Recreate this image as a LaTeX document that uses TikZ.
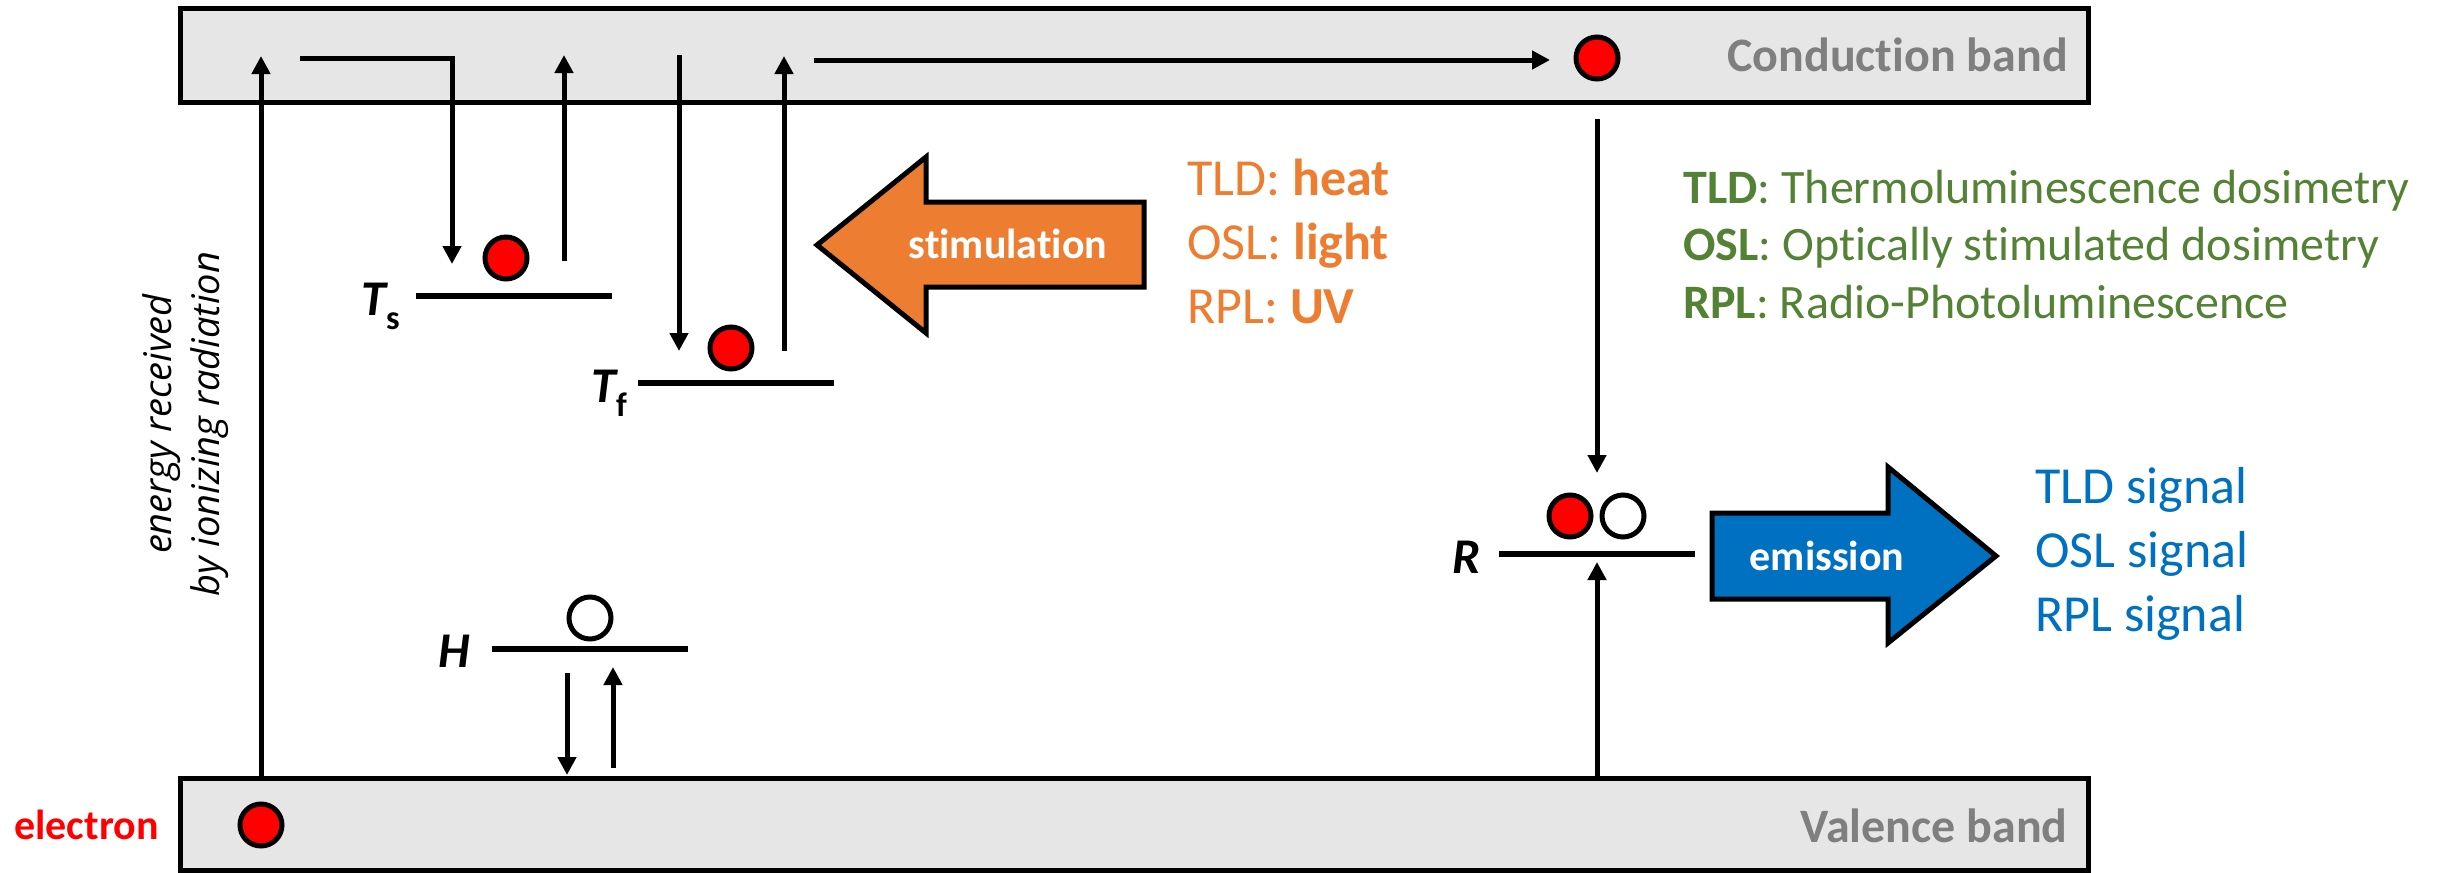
\documentclass[tikz,border=0pt]{standalone}
\usepackage{fontspec}
\setmainfont{Carlito}[Ligatures=NoCommon]
\newfontfamily\osans{Open Sans}
\usetikzlibrary{arrows.meta}
\definecolor{bandgray}{RGB}{230,230,230}
\definecolor{labgray}{RGB}{127,127,127}
\definecolor{orng}{RGB}{237,125,49}
\definecolor{grn}{RGB}{84,130,53}
\definecolor{blu}{RGB}{0,112,192}
\definecolor{redel}{RGB}{255,0,0}
\begin{document}
\begin{tikzpicture}[x=0.5pt,y=-0.5pt,
  band/.style={draw=black, fill=bandgray, line width=2.5pt, minimum width=954pt, inner sep=0pt},
  bandlabel/.style={text=labgray, font=\bfseries\fontsize{24}{28}\selectfont, inner sep=0pt, anchor=base east},
  elec/.style={circle, draw=black, line width=2.5pt, fill=redel, minimum size=21pt, inner sep=0pt},
  hole/.style={elec, fill=white},
  level/.style={line width=3pt},
  arr/.style={line width=2.5pt, -{Triangle[width=9pt,length=9pt]}},
  lvllabel/.style={font=\bfseries\itshape\fontsize{25}{30}\selectfont, inner sep=0pt, anchor=base west},
  bigarrow/.style={draw=black, line width=2.5pt, line join=miter},
  arrowtext/.style={text=white, font=\bfseries\fontsize{21}{25}\selectfont, inner sep=0pt, anchor=base},
  orangetext/.style={text=orng, font=\fontsize{26}{31}\selectfont, inner sep=0pt, anchor=base west},
  greentext/.style={text=grn, font=\fontsize{24}{29}\selectfont, inner sep=0pt, anchor=base west},
  bluetext/.style={text=blu, font=\fontsize{26}{31}\selectfont, inner sep=0pt, anchor=base west}
]
\useasboundingbox (0,0) rectangle (2438,873);

% bands
\node[band, minimum height=47pt] (cb) at (1134,55) {};
\node[band, minimum height=46pt] (vb) at (1134,824) {};
\node[bandlabel] (cblab) at (2068,71) {Conduction band};
\node[bandlabel] (vblab) at (2068,842) {Valence band};

% levels
\coordinate (ts1) at (416,296); \coordinate (ts2) at (612,296);
\coordinate (tf1) at (638,383); \coordinate (tf2) at (834,383);
\coordinate (h1) at (492,649);  \coordinate (h2) at (688,649);
\coordinate (r1) at (1499,554); \coordinate (r2) at (1695,554);
\draw[level] (ts1) -- (ts2);
\draw[level] (tf1) -- (tf2);
\draw[level] (h1) -- (h2);
\draw[level] (r1) -- (r2);

% level labels
\node[lvllabel] (tslab) at (361,315) {T\raisebox{-7pt}{\upshape\fontsize{17}{17}\selectfont s}};
\node[lvllabel] (tflab) at (591,402) {T\raisebox{-7pt}{\upshape\fontsize{17}{17}\selectfont f}};
\node[lvllabel] (hlab) at (438,667) {H};
\node[lvllabel] (rlab) at (1452,573) {R};

% electrons and holes
\node[elec] (ecb) at (1597,58) {};
\node[elec] (ets) at (506,258) {};
\node[elec] (etf) at (731,348) {};
\node[elec] (er) at (1570,516) {};
\node[hole] (hr) at (1623,516) {};
\node[hole] (hh) at (590,618) {};
\node[elec] (evb) at (261,825) {};

% arrow end points
\coordinate (e0) at (261,778);  \coordinate (e1) at (261,56);
\coordinate (c0) at (300,58);   \coordinate (c1) at (452,58);  \coordinate (c2) at (452,264);
\coordinate (s0) at (564,261);  \coordinate (s1) at (564,55);
\coordinate (f0) at (679,55);   \coordinate (f1) at (679,351);
\coordinate (g0) at (784,351);  \coordinate (g1) at (784,56);
\coordinate (t0) at (814,60);   \coordinate (t1) at (1550,60);
\coordinate (d0) at (1597,119); \coordinate (d1) at (1597,473);
\coordinate (u0) at (1597,778); \coordinate (u1) at (1597,562);
\coordinate (hd0) at (567,673); \coordinate (hd1) at (567,775);
\coordinate (hu0) at (613,768); \coordinate (hu1) at (613,667);

\draw[arr] (e0) -- (e1);
\draw[arr, line join=miter] (c0) -- (c1) -- (c2);
\draw[arr] (s0) -- (s1);
\draw[arr] (f0) -- (f1);
\draw[arr] (g0) -- (g1);
\draw[arr] (t0) -- (t1);
\draw[arr] (d0) -- (d1);
\draw[arr] (u0) -- (u1);
\draw[arr] (hd0) -- (hd1);
\draw[arr] (hu0) -- (hu1);

% energy text
\node[rotate=90, align=center, inner sep=0pt, font=\osans\itshape\fontsize{19}{24}\selectfont] (energy) at (186,424) {energy received\\by ionizing radiation};

% electron label
\node[text=redel, font=\bfseries\fontsize{21}{25}\selectfont, inner sep=0pt, anchor=base west] (elab) at (14,839) {electron};

% stimulation arrow
\draw[bigarrow, fill=orng] (1144,202) -- (926,202) -- (926,157) -- (817,245) -- (926,333) -- (926,287) -- (1144,287) -- cycle;
\node[arrowtext] (stim) at (1008,258) {stimulation};

% emission arrow
\draw[bigarrow, fill=blu] (1712,513) -- (1888,513) -- (1888,467) -- (1996,556) -- (1888,643) -- (1888,599) -- (1712,599) -- cycle;
\node[arrowtext] (emis) at (1827,570) {emission};

% orange text
\node[orangetext] (o1) at (1187,195) {TLD: \textbf{heat}};
\node[orangetext] (o2) at (1187,259) {OSL: \textbf{light}};
\node[orangetext] (o3) at (1187,323) {RPL: \textbf{UV}};

% green text
\node[greentext] (g1t) at (1683,203) {\textbf{TLD}: Thermoluminescence dosimetry};
\node[greentext] (g2t) at (1683,260) {\textbf{OSL}: Optically stimulated dosimetry};
\node[greentext] (g3t) at (1683,318) {\textbf{RPL}: Radio-Photoluminescence};

% blue text
\node[bluetext] (b1) at (2035,503) {TLD signal};
\node[bluetext] (b2) at (2035,567) {OSL signal};
\node[bluetext] (b3) at (2035,631) {RPL signal};
\end{tikzpicture}
\end{document}
